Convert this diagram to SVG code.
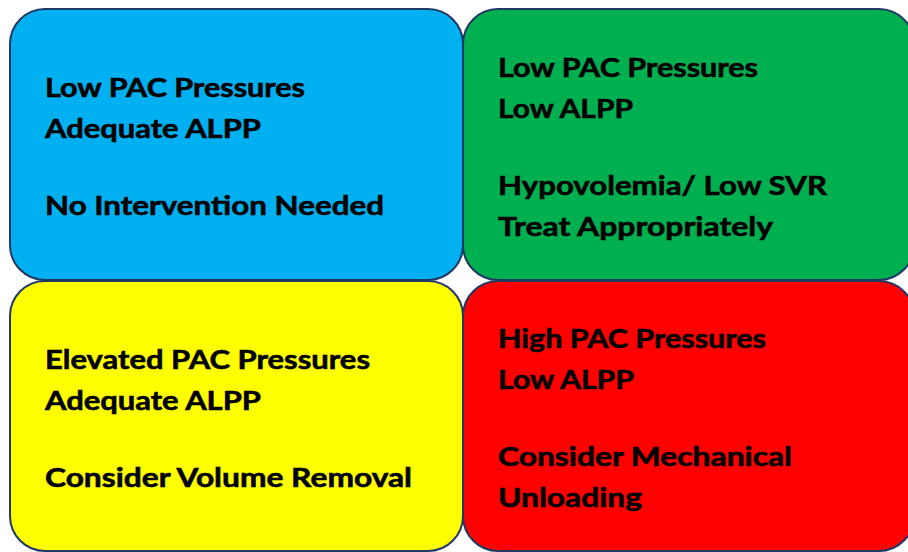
<svg xmlns="http://www.w3.org/2000/svg" width="908" height="552" viewBox="0 0 908 552">
  <style>
    .box { stroke: #1f3864; stroke-width: 2; }
    .lbl { font-family: Lato, "Open Sans", "Liberation Sans", sans-serif; font-weight: bold; font-size: 27.5px; fill: #000000; stroke: #000000; stroke-width: 0.6; }
  </style>
  <rect x="0" y="0" width="908" height="552" fill="#ffffff"/>

  <!-- upper left: low pressures, adequate perfusion -->
  <g id="quadrant-blue">
    <rect class="box" x="10" y="9" width="453" height="271" rx="35" ry="35" fill="#00b0f0"/>
    <text class="lbl" x="45" y="97" textLength="260" lengthAdjust="spacingAndGlyphs">Low PAC Pressures</text>
    <text class="lbl" x="45" y="138" textLength="216" lengthAdjust="spacingAndGlyphs">Adequate ALPP</text>
    <text class="lbl" x="45" y="215" textLength="339" lengthAdjust="spacingAndGlyphs">No Intervention Needed</text>
  </g>

  <!-- upper right: low pressures, low perfusion -->
  <g id="quadrant-green">
    <rect class="box" x="463" y="9" width="451" height="271" rx="35" ry="35" fill="#00b050"/>
    <text class="lbl" x="498" y="77" textLength="260" lengthAdjust="spacingAndGlyphs">Low PAC Pressures</text>
    <text class="lbl" x="498" y="118" textLength="135" lengthAdjust="spacingAndGlyphs">Low ALPP</text>
    <text class="lbl" x="498" y="195" textLength="329" lengthAdjust="spacingAndGlyphs">Hypovolemia/ Low SVR</text>
    <text class="lbl" x="498" y="236" textLength="275" lengthAdjust="spacingAndGlyphs">Treat Appropriately</text>
  </g>

  <!-- lower left: elevated pressures, adequate perfusion -->
  <g id="quadrant-yellow">
    <rect class="box" x="10" y="281" width="453" height="270" rx="35" ry="35" fill="#ffff00"/>
    <text class="lbl" x="45" y="369" textLength="325" lengthAdjust="spacingAndGlyphs">Elevated PAC Pressures</text>
    <text class="lbl" x="45" y="410" textLength="216" lengthAdjust="spacingAndGlyphs">Adequate ALPP</text>
    <text class="lbl" x="45" y="487" textLength="367" lengthAdjust="spacingAndGlyphs">Consider Volume Removal</text>
  </g>

  <!-- lower right: high pressures, low perfusion -->
  <g id="quadrant-red">
    <rect class="box" x="463" y="281" width="451" height="270" rx="35" ry="35" fill="#ff0000"/>
    <text class="lbl" x="498" y="348" textLength="268" lengthAdjust="spacingAndGlyphs">High PAC Pressures</text>
    <text class="lbl" x="498" y="389" textLength="136" lengthAdjust="spacingAndGlyphs">Low ALPP</text>
    <text class="lbl" x="498" y="466" textLength="294" lengthAdjust="spacingAndGlyphs">Consider Mechanical</text>
    <text class="lbl" x="498" y="507" textLength="144" lengthAdjust="spacingAndGlyphs">Unloading</text>
  </g>

  <g id="connectors"></g>
</svg>
